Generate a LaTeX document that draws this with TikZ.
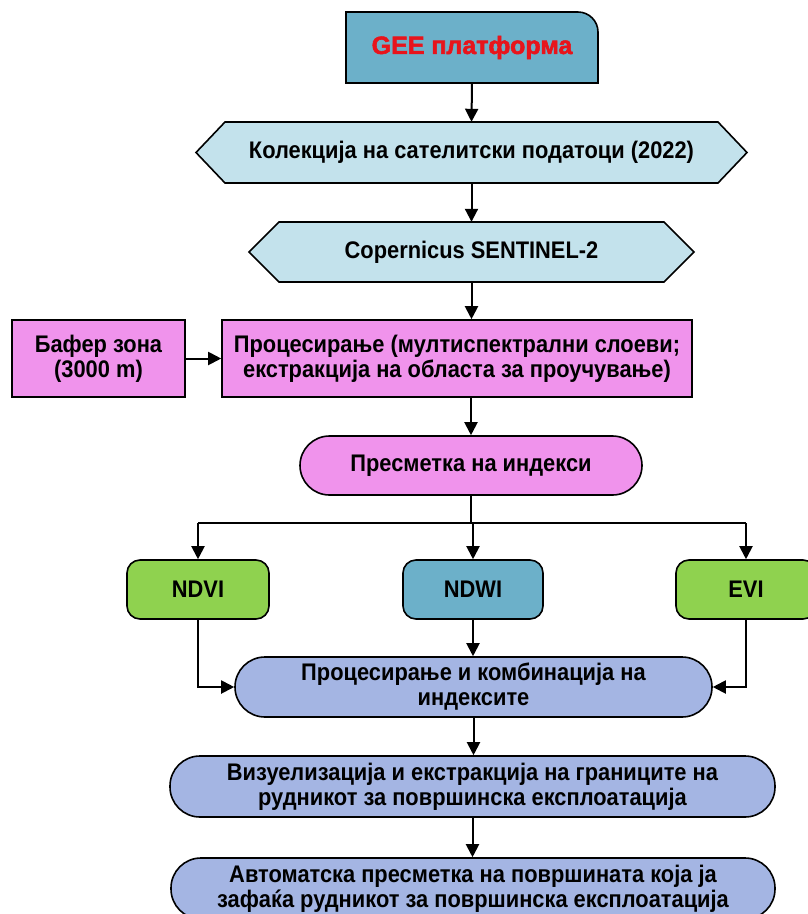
\documentclass[tikz,border=0pt]{standalone}
\usepackage{fontspec}
\setmainfont{Liberation Sans}
\newfontfamily\nar[FakeStretch=0.91]{Liberation Sans}
\newfontfamily\geefont[FakeBold=2.2]{Liberation Sans}
\usetikzlibrary{arrows.meta}
\definecolor{geeblue}{HTML}{6CB0C9}
\definecolor{hexblue}{HTML}{C3E2EC}
\definecolor{pinkc}{HTML}{F093EC}
\definecolor{greenc}{HTML}{8FD24F}
\definecolor{lavc}{HTML}{A4B5E3}
\definecolor{geered}{HTML}{E8141B}
\begin{document}
\begin{tikzpicture}[x=1pt,y=-1pt,
  txt/.style={align=center, inner sep=0pt, font=\nar\bfseries\fontsize{24}{25}\selectfont},
  boxed/.style={txt, draw=black, line width=1.6pt},
  rectbox/.style={boxed, fill=pinkc},
  pill/.style={boxed, fill=lavc, rounded corners=30pt},
  idxbox/.style={boxed, rounded corners=13pt, minimum width=140pt, minimum height=59pt},
  shapeline/.style={draw=black, line width=1.6pt},
  arr/.style={line width=2pt, -{Triangle[length=13pt,width=13pt]}},
  ln/.style={line width=2pt}
]
\useasboundingbox (0,0) rectangle (807,914);
% GEE box with one rounded corner
\draw[shapeline, fill=geeblue] (346,83) -- (346,12) -- (578,12)
  .. controls (589,12) and (598,21) .. (598,32) -- (598,83) -- cycle;
\node[txt, minimum width=252pt, minimum height=71pt,
  font=\geefont\bfseries\fontsize{25}{29}\selectfont, text=geered] (gee) at (472,47.5) {GEE платформа};
% hexagons
\draw[shapeline, fill=hexblue] (196,152.5) -- (225,122) -- (718,122) -- (747,152.5) -- (718,183) -- (225,183) -- cycle;
\node[txt, minimum width=551pt, minimum height=61pt] (h1) at (471.5,152.5) {Колекција на сателитски податоци (2022)};
\draw[shapeline, fill=hexblue] (249,252) -- (279,222) -- (664,222) -- (694,252) -- (664,282) -- (279,282) -- cycle;
\node[txt, minimum width=445pt, minimum height=60pt] (h2) at (471.5,252) {Copernicus SENTINEL-2};
% processing
\node[rectbox, minimum width=470pt, minimum height=77pt] (proc) at (457,358.5) {Процесирање (мултиспектрални слоеви;\\екстракција на областа за проучување)};
\node[rectbox, minimum width=173pt, minimum height=77pt] (buf) at (98.5,358.5) {Бафер зона\\(3000 m)};
\node[boxed, fill=pinkc, rounded corners=29.5pt, minimum width=342pt, minimum height=59pt] (idx) at (471,465.5) {Пресметка на индекси};
% indices
\node[idxbox, fill=greenc, minimum width=142pt] (ndvi) at (198,589.5) {NDVI};
\node[idxbox, fill=geeblue] (ndwi) at (473,589.5) {NDWI};
\node[idxbox, fill=greenc] (evi) at (746,589.5) {EVI};
% lower pills
\node[pill, minimum width=477pt, minimum height=60pt] (combo) at (473.5,687) {Процесирање и комбинација на\\индексите};
\node[pill, minimum width=605pt, minimum height=61pt] (vis) at (472.5,786.5) {Визуелизација и екстракција на границите на\\рудникот за површинска експлоатација};
\node[pill, minimum width=604pt, minimum height=61pt] (auto) at (473,888.5) {Автоматска пресметка на површината која ја\\зафаќа рудникот за површинска експлоатација};
% connectors
\draw[arr] (gee.south) -- (h1.north);
\draw[arr] (h1.south) -- (h2.north);
\draw[arr] (h2.south) -- (h2.south |- proc.north);
\draw[arr] (buf.east) -- (proc.west);
\draw[arr] (idx.north |- proc.south) -- (idx.north);
\coordinate (split) at (471,523);
\draw[ln] (idx.south) -- (split);
\draw[ln] (ndvi.north |- split) -- (evi.north |- split);
\draw[arr] (ndvi.north |- split) -- (ndvi.north);
\draw[arr] (ndwi.north |- split) -- (ndwi.north);
\draw[arr] (evi.north |- split) -- (evi.north);
\draw[arr] (ndvi.south) -- (ndvi.south |- combo.west) -- (combo.west);
\draw[arr] (ndwi.south) -- (ndwi.south |- combo.north);
\draw[arr] (evi.south) -- (evi.south |- combo.east) -- (combo.east);
\draw[arr] (combo.south) -- (combo.south |- vis.north);
\draw[arr] (vis.south) -- (vis.south |- auto.north);
\end{tikzpicture}
\end{document}
